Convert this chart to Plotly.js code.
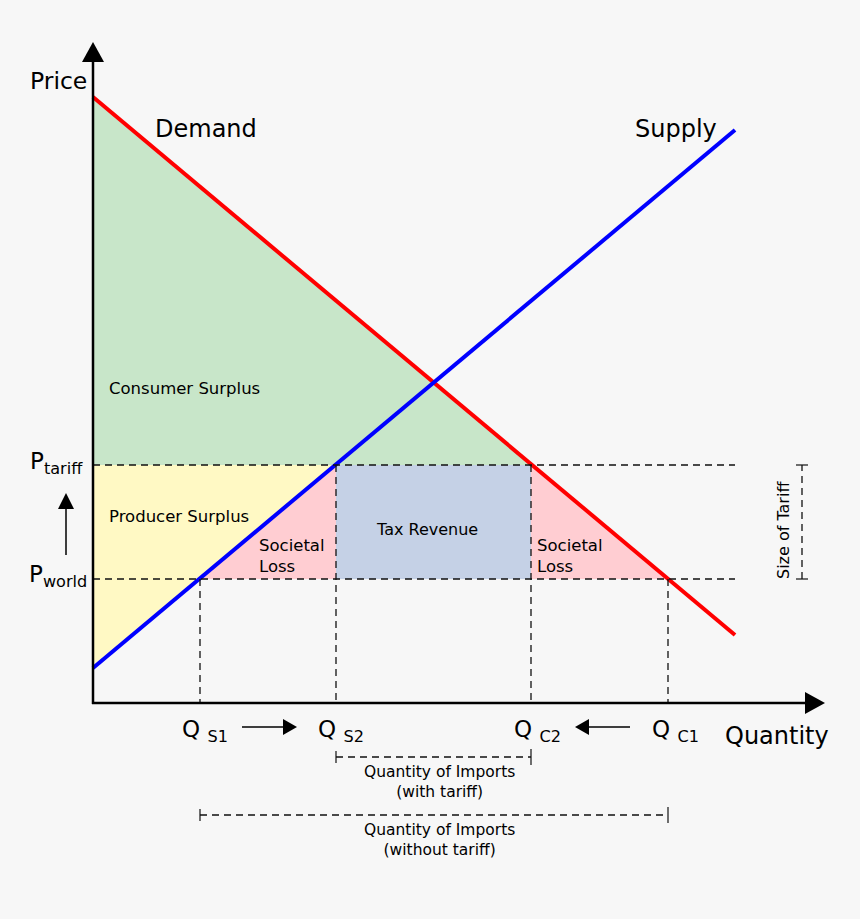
<!DOCTYPE html>
<html><head><meta charset="utf-8">
<script src="https://cdn.plot.ly/plotly-3.0.1.min.js"></script>
<style>body{margin:0;background:#f7f7f7}</style>
</head><body><div id="chart" style="width:860px;height:919px"></div>
<script>
// Diagram values (quantity / price units)
const demandQ = [0, 642];
const demandP = [606, 68];
const supplyQ = [0, 642];
const supplyP = [35, 573];
const priceLevels = {world: 124, tariff: 238};
const qLevels = {S1: 107, S2: 243, C2: 438, C1: 575};
const supplyIntercept = 35;
const demandIntercept = 606;
const lineEnd = 642;

const PW = priceLevels.world, PT = priceLevels.tariff;
const QS1 = qLevels.S1, QS2 = qLevels.S2, QC2 = qLevels.C2, QC1 = qLevels.C1;

const font = "DejaVu Sans, Verdana, sans-serif";
const traces = [
  {x:[0,0,QC2,0], y:[demandIntercept,PT,PT,demandIntercept], fill:'toself', fillcolor:'#c8e6c9', line:{width:0}, mode:'lines', hoverinfo:'skip'},
  {x:[0,0,QS2,0], y:[supplyIntercept,PT,PT,supplyIntercept], fill:'toself', fillcolor:'#fff9c4', line:{width:0}, mode:'lines', hoverinfo:'skip'},
  {x:[QS1,QS2,QS2,QS1], y:[PW,PT,PW,PW], fill:'toself', fillcolor:'#ffcdd2', line:{width:0}, mode:'lines', hoverinfo:'skip'},
  {x:[QS2,QS2,QC2,QC2,QS2], y:[PW,PT,PT,PW,PW], fill:'toself', fillcolor:'#c5d1e6', line:{width:0}, mode:'lines', hoverinfo:'skip'},
  {x:[QC2,QC2,QC1,QC2], y:[PT,PW,PW,PT], fill:'toself', fillcolor:'#ffcdd2', line:{width:0}, mode:'lines', hoverinfo:'skip'},
  {x:demandQ, y:demandP, mode:'lines', line:{color:'#ff0000', width:4}, hoverinfo:'skip'},
  {x:supplyQ, y:supplyP, mode:'lines', line:{color:'#0000ff', width:4}, hoverinfo:'skip'}
];

const dash = {color:'#111', width:1.3, dash:'7px,5px'};
const thin = {color:'#111', width:1.2};
const shapes = [
  {type:'line', x0:0, x1:lineEnd, y0:PT, y1:PT, line:dash, layer:'above'},
  {type:'line', x0:0, x1:lineEnd, y0:PW, y1:PW, line:dash, layer:'above'},
  {type:'line', x0:QS1, x1:QS1, y0:PW, y1:0, line:dash, layer:'above'},
  {type:'line', x0:QS2, x1:QS2, y0:PT, y1:0, line:dash, layer:'above'},
  {type:'line', x0:QC2, x1:QC2, y0:PT, y1:0, line:dash, layer:'above'},
  {type:'line', x0:QC1, x1:QC1, y0:PW, y1:0, line:dash, layer:'above'},
  // axes
  {type:'line', x0:0, x1:0, y0:-1, y1:643, line:{color:'#000', width:2.5}, layer:'above'},
  {type:'line', x0:-1, x1:714, y0:0, y1:0, line:{color:'#000', width:2.5}, layer:'above'},
  {type:'path', path:'M -11 641 L 11 641 L 0 661 Z', fillcolor:'#000', line:{width:0}, layer:'above'},
  {type:'path', path:'M 712 11 L 712 -11 L 732 0 Z', fillcolor:'#000', line:{width:0}, layer:'above'},
  // size of tariff bracket
  {type:'line', x0:709, x1:709, y0:PW, y1:PT, line:dash},
  {type:'line', x0:703, x1:715, y0:PT, y1:PT, line:thin},
  {type:'line', x0:703, x1:715, y0:PW, y1:PW, line:thin},
  // imports brackets
  {type:'line', x0:QS2, x1:QC2, y0:-54, y1:-54, line:dash},
  {type:'line', x0:QS2, x1:QS2, y0:-48, y1:-60, line:thin},
  {type:'line', x0:QC2, x1:QC2, y0:-46, y1:-62, line:thin},
  {type:'line', x0:QS1, x1:QC1, y0:-112, y1:-112, line:dash},
  {type:'line', x0:QS1, x1:QS1, y0:-106, y1:-118, line:thin},
  {type:'line', x0:QC1, x1:QC1, y0:-104, y1:-120, line:thin},
  // small arrows
  {type:'line', x0:149, x1:192, y0:-24, y1:-24, line:{color:'#000', width:1.5}},
  {type:'path', path:'M 190 -16 L 190 -32 L 204 -24 Z', fillcolor:'#000', line:{width:0}},
  {type:'line', x0:537, x1:494, y0:-24, y1:-24, line:{color:'#000', width:1.5}},
  {type:'path', path:'M 496 -16 L 496 -32 L 482 -24 Z', fillcolor:'#000', line:{width:0}},
  {type:'line', x0:-27, x1:-27, y0:148, y1:196, line:{color:'#000', width:1.5}},
  {type:'path', path:'M -35 194 L -19 194 L -27 210 Z', fillcolor:'#000', line:{width:0}}
];

function t(x, y, text, size, opts) {
  return Object.assign({x:x, y:y, xref:'x', yref:'y', text:text, showarrow:false,
    font:{family:font, size:size, color:'#000'}}, opts||{});
}
const annotations = [
  t(-35, 622, 'Price', 23.5),
  t(113, 574, 'Demand', 24),
  t(583, 574, 'Supply', 24),
  t(14, 315, 'Consumer Surplus', 16.5, {xanchor:'left'}),
  t(14, 187, 'Producer Surplus', 16.5, {xanchor:'left'}),
  t(164, 147, 'Societal<br>Loss', 16.5, {xanchor:'left', align:'left'}),
  t(334, 174, 'Tax Revenue', 16),
  t(442, 147, 'Societal<br>Loss', 16.5, {xanchor:'left', align:'left'}),
  t(-37, 240, 'P<sub>tariff</sub>', 23),
  t(-35, 127, 'P<sub>world</sub>', 23),
  t(QS1+5, -28, 'Q <sub>S1</sub>', 23),
  t(QS2+5, -28, 'Q <sub>S2</sub>', 23),
  t(QC2+6, -28, 'Q <sub>C2</sub>', 23),
  t(QC1+7, -28, 'Q <sub>C1</sub>', 23),
  t(684, -33, 'Quantity', 24),
  t(346, -79, 'Quantity of Imports<br>(with tariff)', 15.5),
  t(346, -137, 'Quantity of Imports<br>(without tariff)', 15.5),
  t(690, 173, 'Size of Tariff', 16, {textangle:-90})
];

const layout = {
  width:860, height:919,
  margin:{l:0, r:0, t:0, b:0},
  paper_bgcolor:'#f7f7f7', plot_bgcolor:'#f7f7f7',
  showlegend:false,
  xaxis:{range:[-93,767], visible:false, fixedrange:true},
  yaxis:{range:[-216,703], visible:false, fixedrange:true},
  shapes:shapes, annotations:annotations
};
Plotly.newPlot('chart', traces, layout, {staticPlot:true});
</script></body></html>
